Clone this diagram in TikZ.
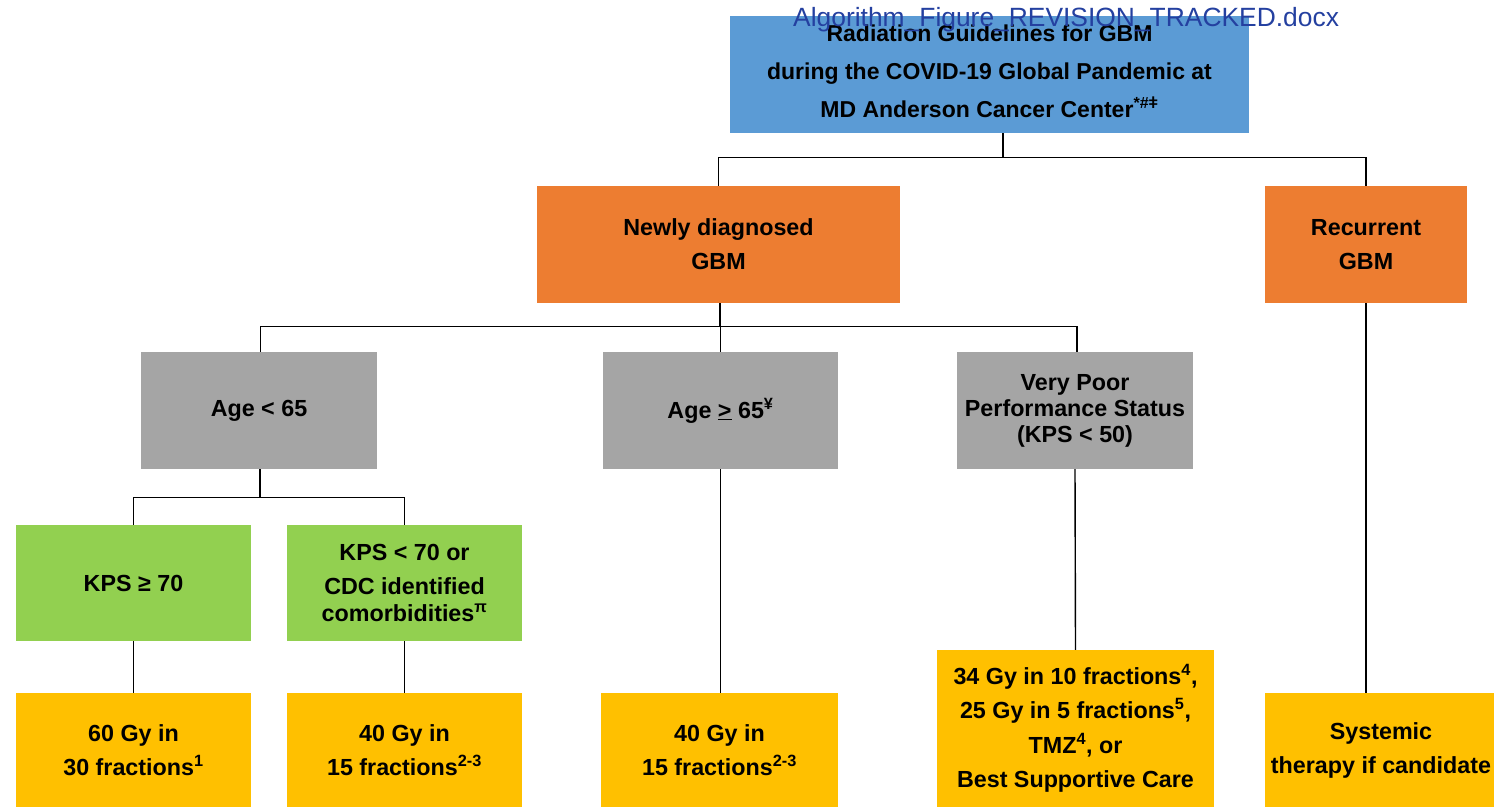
\documentclass[tikz,border=0pt]{standalone}
\usepackage{fontspec}
\setmainfont{Liberation Sans}
\definecolor{hdrblue}{RGB}{91,155,213}
\definecolor{caseorange}{RGB}{237,125,49}
\definecolor{agegray}{RGB}{165,165,165}
\definecolor{kpsgreen}{RGB}{146,208,80}
\definecolor{doseyellow}{RGB}{255,192,0}
\definecolor{fileblue}{RGB}{36,64,160}
\begin{document}
\begin{tikzpicture}[x=1pt,y=-1pt,
  box/.style={inner sep=0pt,align=center,font=\bfseries\fontsize{23.3}{34}\selectfont},
  conn/.style={line width=1.4pt}]
\useasboundingbox (0,0) rectangle (1494,807);

\node[box,fill=hdrblue,minimum width=519pt,minimum height=117pt,font=\bfseries\fontsize{23}{38}\selectfont] (top) at (989.5,74.5)
  {Radiation Guidelines for GBM\\during the COVID-19 Global Pandemic at\\MD Anderson Cancer Center\textsuperscript{*\#ǂ}\rule[-6pt]{0pt}{1pt}};
\node[anchor=base west,inner sep=0pt,text=fileblue,font=\fontsize{26.4}{30}\selectfont] (file) at (793,26) {Algorithm\_Figure\_REVISION\_TRACKED.docx};

\node[box,fill=caseorange,minimum width=363pt,minimum height=117pt] (newly) at (718.5,244.5) {Newly diagnosed\\GBM};
\node[box,fill=caseorange,minimum width=202pt,minimum height=117pt] (recur) at (1366,244.5) {Recurrent\\GBM};

\node[box,fill=agegray,minimum width=236pt,minimum height=117pt] (age1) at (259,410.5) {Age < 65};
\node[box,fill=agegray,minimum width=235pt,minimum height=117pt] (age2) at (720.5,410.5) {Age \underline{>} 65\textsuperscript{¥}};
\node[box,fill=agegray,minimum width=236pt,minimum height=117pt,font=\bfseries\fontsize{23.3}{26}\selectfont] (poor) at (1075,410.5) {Very Poor\\Performance Status\\(KPS < 50)};

\node[box,fill=kpsgreen,minimum width=235pt,minimum height=116pt] (kps1) at (133.5,583) {KPS ≥ 70};
\node[box,fill=kpsgreen,minimum width=235pt,minimum height=116pt,font=\bfseries\fontsize{23.3}{27}\selectfont] (kps2) at (404.5,583) {KPS < 70 or\\[7pt]CDC identified\\comorbidities\textsuperscript{π}};

\node[box,fill=doseyellow,minimum width=235pt,minimum height=114pt] (dose1) at (133.5,750) {60 Gy in\\30 fractions\textsuperscript{1}};
\node[box,fill=doseyellow,minimum width=235pt,minimum height=114pt] (dose2) at (404.5,750) {40 Gy in\\15 fractions\textsuperscript{2-3}};
\node[box,fill=doseyellow,minimum width=237pt,minimum height=114pt] (dose3) at (719.5,750) {40 Gy in\\15 fractions\textsuperscript{2-3}};
\node[box,fill=doseyellow,minimum width=277pt,minimum height=157pt,font=\bfseries\fontsize{23.3}{34.5}\selectfont] (dose4) at (1075.5,728.5)
  {34 Gy in 10 fractions\textsuperscript{4},\\25 Gy in 5 fractions\textsuperscript{5},\\TMZ\textsuperscript{4}, or\\Best Supportive Care};
\node[box,fill=doseyellow,minimum width=232pt,minimum height=114pt] (dose5) at (1381,750) {Systemic\\therapy if candidate};

% tree connectors
\draw[conn] ([xshift=13.5pt]top.south) -- ++(0,24) coordinate (bus1);
\draw[conn] (newly.north) |- (bus1) -| (recur.north);
\draw[conn] ([xshift=1.5pt]newly.south) -- ++(0,23) coordinate (bus2);
\draw[conn] ([xshift=1.5pt]age1.north) |- (bus2) -| ([xshift=2pt]poor.north);
\draw[conn] (age2.north) -- (age2.north |- bus2);
\draw[conn] ([xshift=1pt]age1.south) -- ++(0,28) coordinate (bus3);
\draw[conn] (kps1.north) |- (bus3) -| (kps2.north);

\draw[conn] (kps1.south) -- (dose1.north);
\draw[conn] (kps2.south) -- (dose2.north);
\draw[conn] (age2.south) -- (age2.south |- dose3.north);
\draw[conn] (poor.south) -- (dose4.north);
\draw[conn] (recur.south) -- (recur.south |- dose5.north);
\end{tikzpicture}
\end{document}
